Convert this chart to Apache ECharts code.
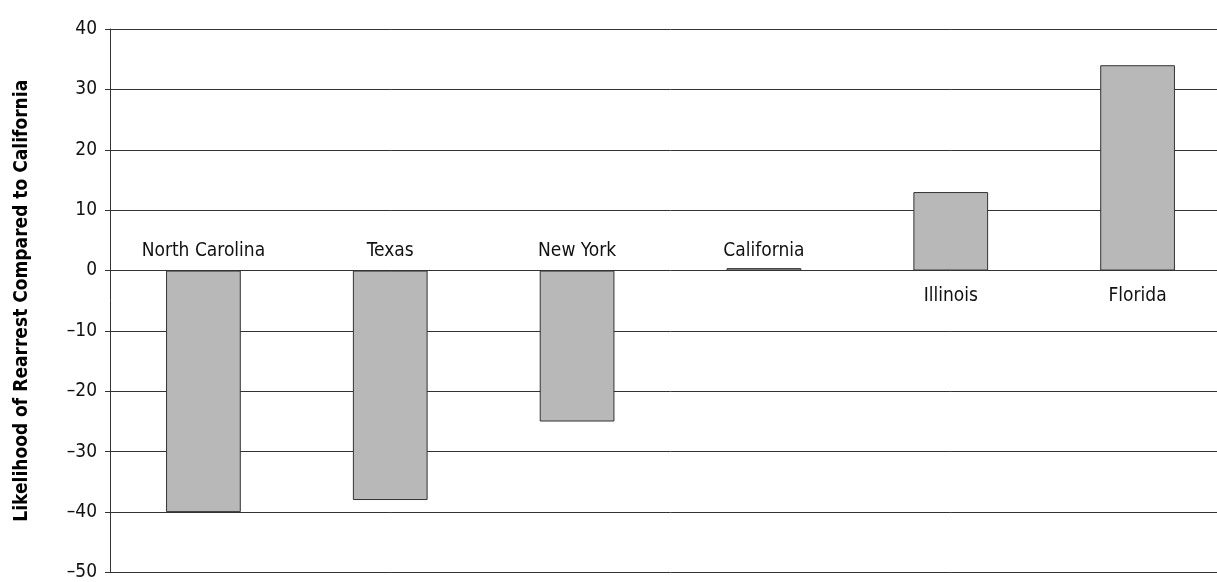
<!DOCTYPE html>
<html>
<head>
<meta charset="utf-8">
<script src="https://cdn.jsdelivr.net/npm/echarts@6/dist/echarts.min.js"></script>
<style>
  html, body { margin: 0; padding: 0; background: #fff; overflow: hidden; }
  /* plot runs a little past the right edge of the window, as in the original */
  #chart { width: 1231px; height: 582px; }
</style>
</head>
<body>
<div id="chart"></div>
<script>
const states = ['North Carolina', 'Texas', 'New York', 'California', 'Illinois', 'Florida']
const rearrest = [-40, -38, -25, 0.4, 13, 34]
const yTicks = [-50, -40, -30, -20, -10, 0, 10, 20, 30, 40]

const FONT = '"Liberation Sans Narrow", "DejaVu Sans Condensed", sans-serif'
const LINE = '#333'

const chart = echarts.init(document.getElementById('chart'))

// labels sit on the zero line: above for negative bars, below for positive ones
const labelPoints = states.map((s, i) => {
  const below = rearrest[i] > 1
  return {
    value: [s, 0],
    label: { position: below ? 'bottom' : 'top', distance: below ? 16 : 10 },
  }
})

chart.setOption({
  animation: false,
  grid: { top: 29, bottom: 7, left: 110, right: 0 },
  xAxis: {
    type: 'category',
    data: states,
    axisLine: { show: false },
    axisTick: { show: false },
    axisLabel: { show: false },
  },
  yAxis: {
    type: 'value',
    min: yTicks[0],
    max: yTicks[yTicks.length - 1],
    interval: 10,
    axisLine: { show: true, lineStyle: { color: LINE, width: 1 } },
    axisTick: { show: true, length: 5, lineStyle: { color: LINE } },
    axisLabel: {
      color: '#111', fontSize: 19, fontFamily: FONT, margin: 13,
      formatter: v => String(v).replace('-', '\u2013'),
    },
    splitLine: { lineStyle: { color: LINE, width: 1 } },
    name: 'Likelihood of Rearrest Compared to California',
    nameLocation: 'middle',
    nameGap: 78,
    nameTextStyle: { color: '#000', fontSize: 19, fontWeight: 'bold', fontFamily: FONT },
  },
  series: [
    {
      type: 'bar',
      data: rearrest,
      barWidth: '40%',
      itemStyle: { color: '#b8b8b8', borderColor: '#333', borderWidth: 1 },
    },
    {
      type: 'scatter',
      data: labelPoints,
      symbolSize: 0,
      silent: true,
      itemStyle: { opacity: 1 },
      label: {
        show: true,
        formatter: p => p.value[0],
        color: '#111', fontSize: 19, fontFamily: FONT,
      },
    },
  ],
})
</script>
</body>
</html>
